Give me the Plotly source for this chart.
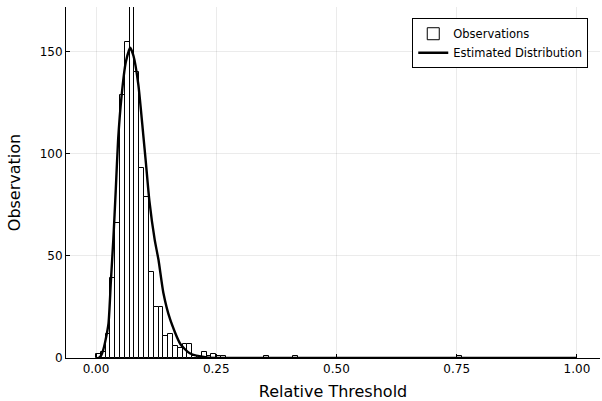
import plotly.graph_objects as go

# Histogram: bin left edges (width 0.01) and counts
bin_width = 0.01
bin_left = [0.00, 0.01, 0.02, 0.03, 0.04, 0.05, 0.06, 0.07, 0.08, 0.09,
            0.10, 0.11, 0.12, 0.13, 0.14, 0.15, 0.16, 0.17, 0.18, 0.19,
            0.20, 0.21, 0.22, 0.23, 0.24, 0.25, 0.26, 0.35, 0.41, 0.75]
counts = [2, 3, 12, 39, 66, 129, 155, 172, 140, 93,
          79, 42, 25, 25, 11, 12, 6, 5, 7, 7,
          1, 0, 3, 1, 2, 1, 1, 1, 1, 1]

# Estimated distribution curve
curve_x = [0.0, 0.005, 0.010, 0.015, 0.020, 0.026, 0.031, 0.036, 0.041, 0.046,
           0.053, 0.062, 0.071, 0.078, 0.088, 0.098, 0.104, 0.111, 0.122, 0.130,
           0.140, 0.154, 0.175, 0.195, 0.23, 0.30, 0.50, 0.75, 1.0]
curve_y = [0, 0, 1, 4, 9, 17, 38, 58, 82, 107,
           128, 145, 152, 148, 134, 110, 95, 77, 58, 48,
           32, 19, 7, 2.3, 0.3, 0, 0, 0, 0]

x_ticks = [0.0, 0.25, 0.5, 0.75, 1.0]
x_tick_labels = ["0.00", "0.25", "0.50", "0.75", "1.00"]
y_ticks = [0, 50, 100, 150]

bin_centers = [b + bin_width / 2 for b in bin_left]

fig = go.Figure()
fig.add_trace(go.Bar(
    x=bin_centers, y=counts, width=bin_width,
    marker=dict(color="white", line=dict(color="black", width=1)),
    name="Observations",
))
fig.add_trace(go.Scatter(
    x=curve_x, y=curve_y, mode="lines",
    line=dict(color="black", width=2.4, shape="spline", smoothing=0.6),
    name="Estimated Distribution",
))

font_family = "DejaVu Sans"
fig.update_layout(
    width=602, height=401,
    margin=dict(l=66, r=2, t=7, b=43, autoexpand=False),
    paper_bgcolor="white", plot_bgcolor="white",
    font=dict(family=font_family, size=12, color="black"),
    bargap=0,
    legend=dict(
        x=0.978, y=0.968, xanchor="right", yanchor="top",
        bordercolor="black", borderwidth=1, bgcolor="white",
        font=dict(size=11.5), tracegroupgap=0, itemwidth=30,
    ),
    xaxis=dict(
        range=[-0.0624, 1.048],
        tickvals=x_ticks, ticktext=x_tick_labels,
        showgrid=True, gridcolor="rgba(0,0,0,0.08)", gridwidth=1,
        zeroline=False, showline=True, linecolor="black", linewidth=1,
        ticks="inside", ticklen=4, tickcolor="black",
        title=dict(text="Relative Threshold", font=dict(size=16)),
        tickfont=dict(size=12), automargin=False,
    ),
    yaxis=dict(
        range=[0, 172],
        tickvals=y_ticks,
        showgrid=True, gridcolor="rgba(0,0,0,0.08)", gridwidth=1,
        zeroline=False, showline=True, linecolor="black", linewidth=1,
        ticks="inside", ticklen=4, tickcolor="black",
        title=dict(text="Observation", font=dict(size=16)),
        tickfont=dict(size=12), automargin=False,
    ),
)

fig.write_html(
    "out.html",
    config={"displayModeBar": False},
    post_script="document.body.style.margin='0px';document.body.style.overflow='hidden';",
)
